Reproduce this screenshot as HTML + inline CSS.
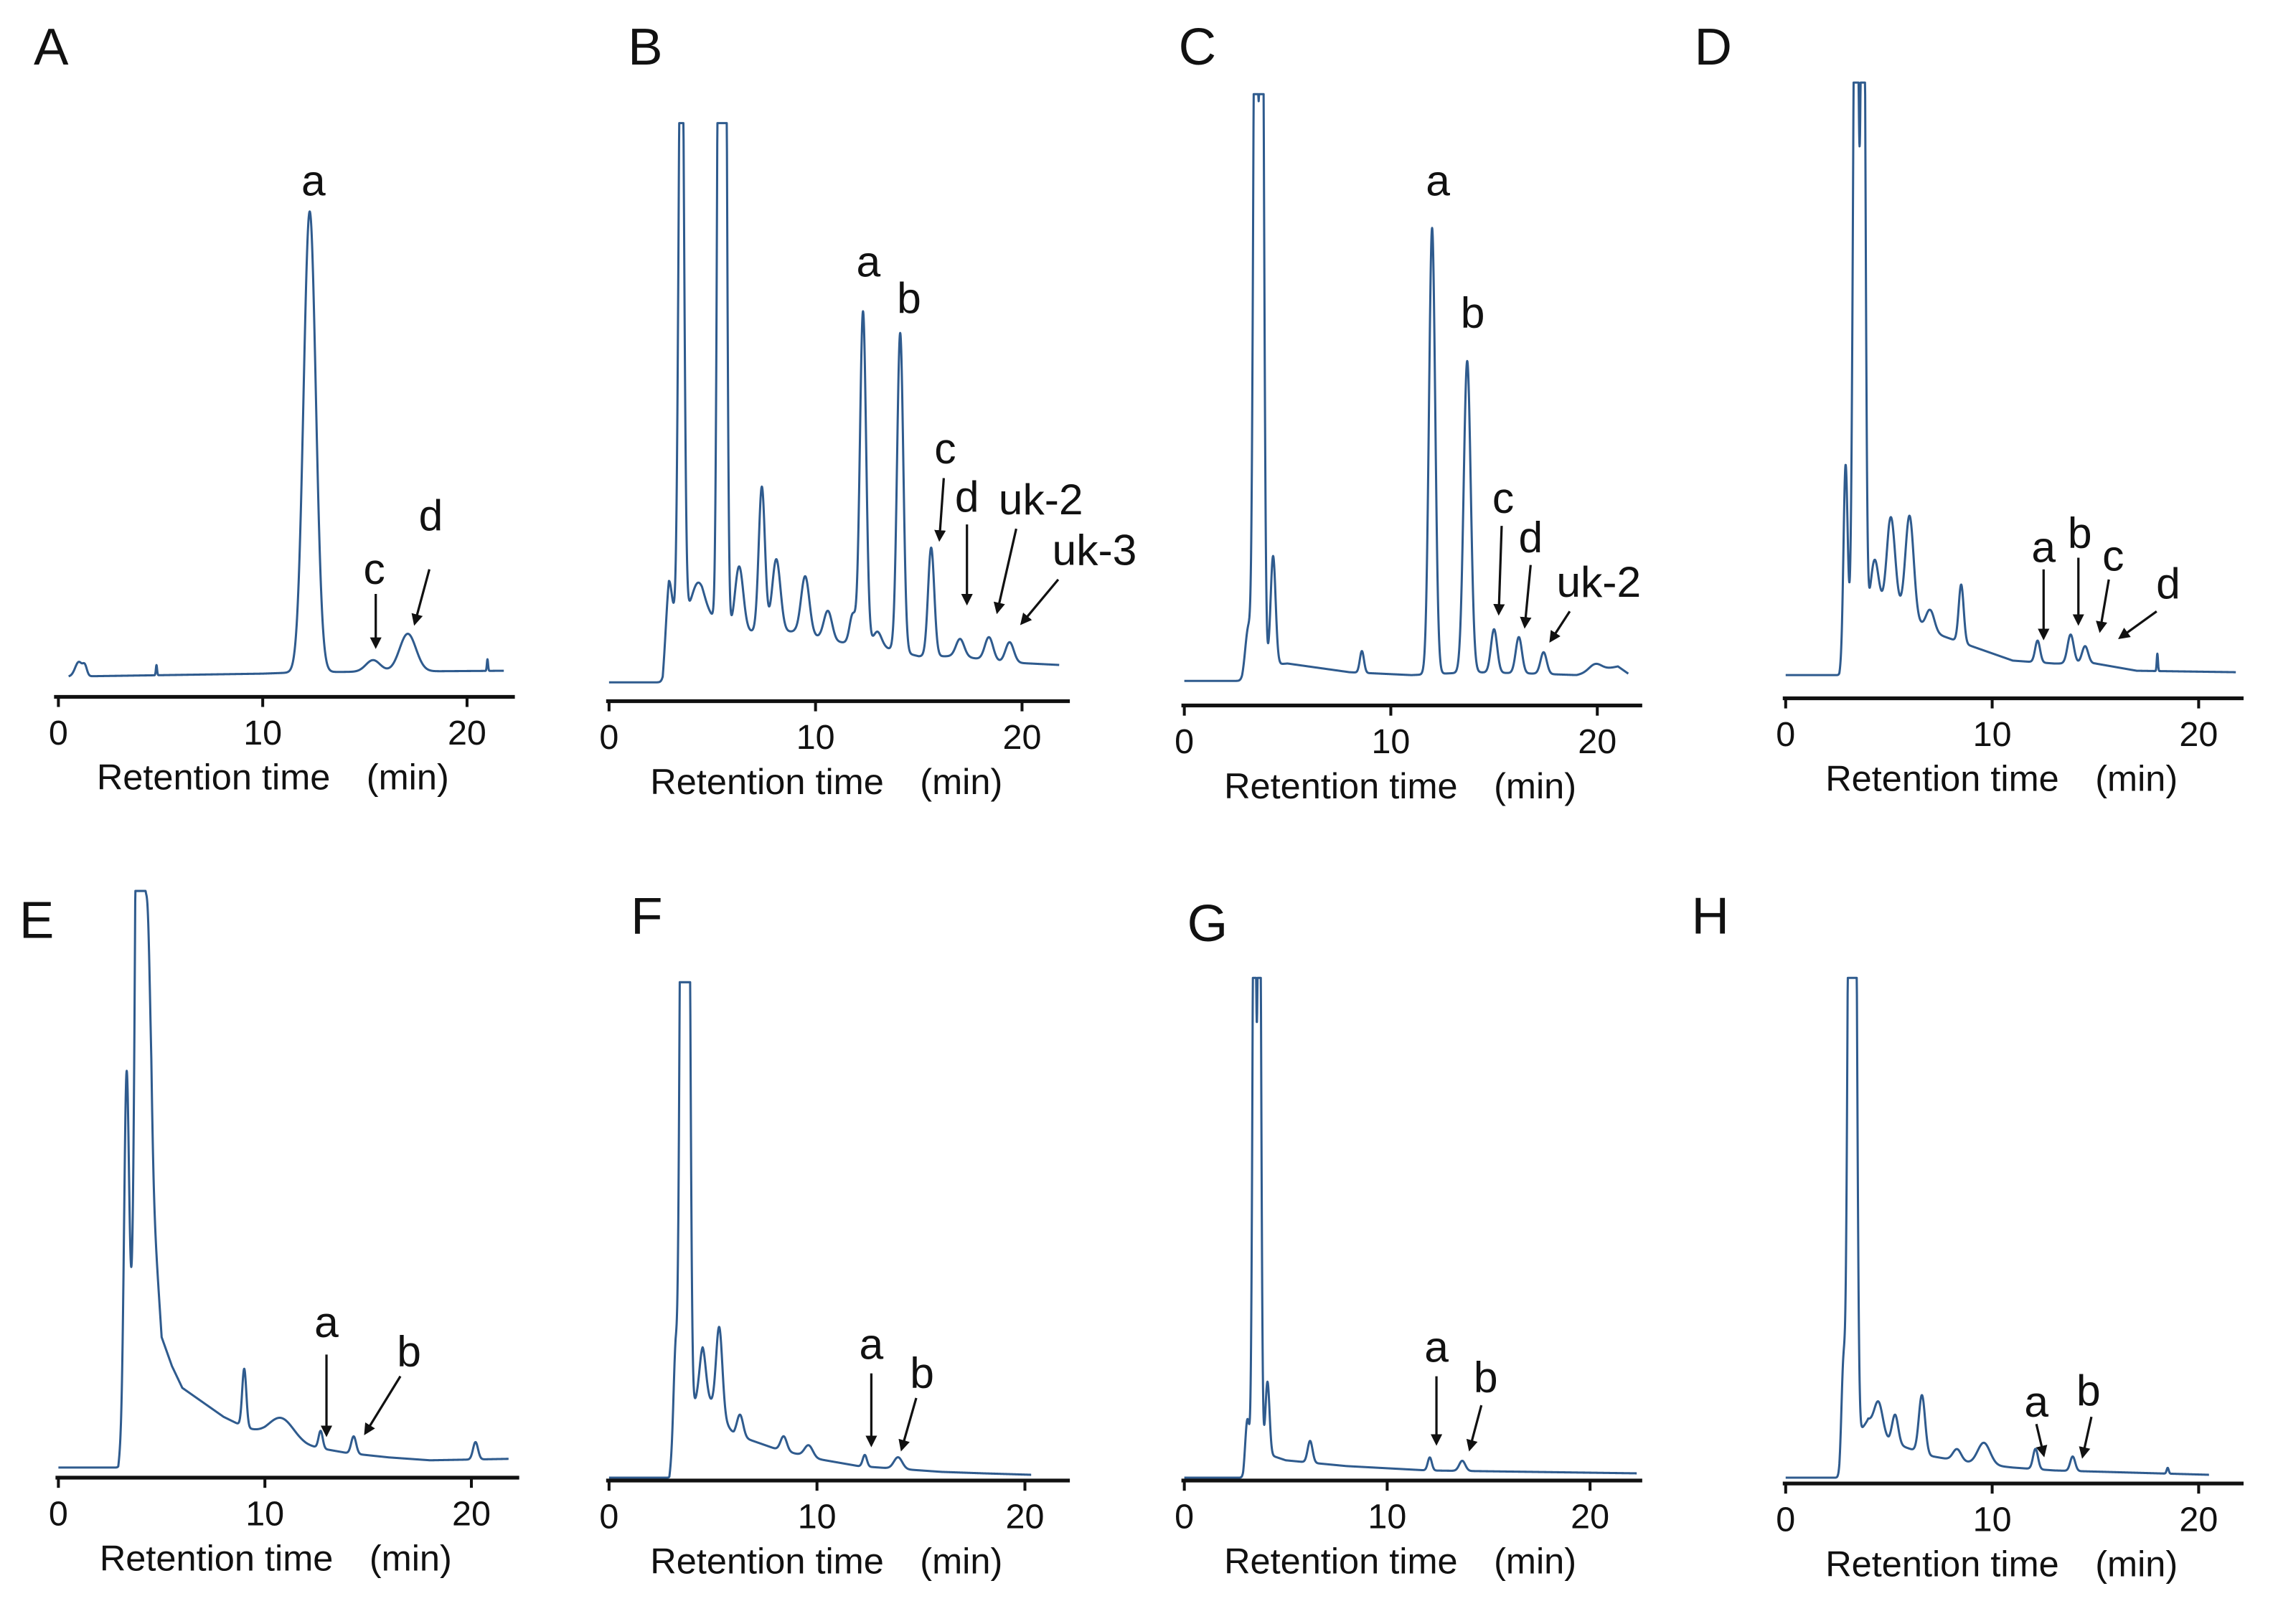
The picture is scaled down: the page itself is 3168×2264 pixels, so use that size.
<!DOCTYPE html>
<html><head><meta charset="utf-8"><style>
html,body{margin:0;padding:0;background:#fff}
svg{display:block}
text{font-family:"Liberation Sans",Arial,sans-serif;fill:#111}
</style></head><body>
<svg id="fig" width="3168" height="2264" viewBox="0 0 1568 1121" xmlns="http://www.w3.org/2000/svg">
<defs><marker id="ah" markerWidth="8" markerHeight="8" refX="6" refY="4" orient="auto" markerUnits="userSpaceOnUse"><path d="M0,0 L8,4 L0,8 z" fill="#111"/></marker></defs>
</svg>
<script>
// ---- data: peak times (min), peak heights (px units), peak widths (min), background points ----
const aPeakT=[1.0,1.3,4.8,12.3,15.4,17.1,21.0];
const aPeakH=[10,6,7,318,8,26,8];
const aPeakW=[0.18,0.1,0.03,0.3,0.35,0.4,0.03];
const aBgT=[0.5,10,12,21.8];
const aBgV=[0,2,3,4];

const bPeakT=[2.9,3.5,4.3,5.35,5.6,6.3,7.4,8.1,9.5,10.6,11.8,12.3,13.0,14.1,15.6,17.0,18.4,19.4];
const bPeakH=[30,500,20,600,600,45,100,50,40,20,20,230,10,220,75,12,16,14];
const bPeakW=[0.15,0.12,0.3,0.1,0.1,0.2,0.15,0.2,0.2,0.2,0.15,0.15,0.2,0.15,0.15,0.2,0.2,0.2];
const bBgT=[0,2.6,2.9,4.5,6,9,11,13,15,17,19,21.8];
const bBgV=[0,0,40,50,35,35,28,25,18,18,14,12];

const cPeakT=[3.1,3.45,3.75,4.3,8.6,12.0,13.7,15.0,16.2,17.4,19.9];
const cPeakH=[30,600,600,75,15,308,215,30,25,15,5];
const cPeakW=[0.15,0.1,0.1,0.12,0.1,0.15,0.17,0.15,0.15,0.15,0.3];
const cBgT=[0,2.8,3.2,5,8,11,14,17,19,21,21.5];
const cBgV=[0,0,10,12,6,4,6,5,4,10,5];

const dPeakT=[2.9,3.4,3.75,4.3,5.1,6.0,7.0,8.5,12.2,13.8,14.5,18.0];
const dPeakH=[130,600,600,40,60,70,15,40,15,20,12,12];
const dPeakW=[0.1,0.12,0.1,0.2,0.2,0.2,0.2,0.12,0.12,0.15,0.15,0.03];
const dBgT=[0,2.6,3,5,7,9,11,13,15,17,21.8];
const dBgV=[0,0,20,50,30,20,10,8,8,3,2];

const ePeakT=[3.3,3.9,4.3,9.0,10.8,12.7,14.3,20.2];
const ePeakH=[230,600,200,40,15,12,12,12];
const ePeakW=[0.12,0.15,0.15,0.1,0.6,0.1,0.12,0.12];
const eBgT=[0,2.9,3.2,4.5,5,5.5,6,7,8,9,10,12,14,16,18,21.8];
const eBgV=[0,0,30,200,90,70,55,45,35,28,22,15,10,7,5,6];

const fPeakT=[3.2,3.5,3.8,4.5,5.3,6.3,8.4,9.6,12.3,13.9];
const fPeakH=[60,500,500,30,60,15,10,8,8,8];
const fPeakW=[0.1,0.1,0.1,0.15,0.15,0.15,0.15,0.2,0.1,0.2];
const fBgT=[0,2.9,3.2,4.5,6,8,10,12,14,16,18,20.3];
const fBgV=[0,0,30,60,30,20,13,8,6,4,3,2];

const gPeakT=[3.1,3.45,3.7,4.1,6.2,12.1,13.7];
const gPeakH=[30,500,500,50,15,9,7];
const gPeakW=[0.1,0.08,0.08,0.1,0.12,0.1,0.15];
const gBgT=[0,2.9,3.3,5,8,12,22.3];
const gBgV=[0,0,20,12,8,5,3];

const hPeakT=[2.8,3.1,3.35,4.5,5.3,6.6,8.3,9.6,12.1,13.9,18.5];
const hPeakH=[70,500,500,20,20,40,8,15,14,10,4];
const hPeakW=[0.1,0.1,0.1,0.2,0.15,0.15,0.2,0.3,0.12,0.12,0.05];
const hBgT=[0,2.6,3,4,5,7,9,11,13,20.5];
const hBgV=[0,0,20,40,25,15,10,7,5,2];

const tickLabels=["0","10","20"];
const tickValues=[0,10,20];

const panels=[
 {id:"A",lx:35,ly:35,x0:40,x20:322,ax1:37,ax2:355,axY:481,base:467,top:60,t0:0.5,t1:21.8,pt:aPeakT,ph:aPeakH,pw:aPeakW,bt:aBgT,bv:aBgV,
  ann:[["a",216,127,null],["c",258,395,[259,410,259,446]],["d",297,358,[296,393,286,430]]]},
 {id:"B",lx:445,ly:35,x0:420,x20:705,ax1:418,ax2:738,axY:484,base:471,top:85,t0:0,t1:21.8,pt:bPeakT,ph:bPeakH,pw:bPeakW,bt:bBgT,bv:bBgV,
  ann:[["a",599,183,null],["b",627,208,null],["c",652,312,[651,330,648,372]],["d",667,345,[667,362,667,416]],["uk-2",718,347,[701,365,688,422]],["uk-3",755,382,[730,400,705,430]]]},
 {id:"C",lx:826,ly:35,x0:817,x20:1102,ax1:815,ax2:1133,axY:487,base:470,top:65,t0:0,t1:21.5,pt:cPeakT,ph:cPeakH,pw:cPeakW,bt:cBgT,bv:cBgV,
  ann:[["a",992,127,null],["b",1016,218,null],["c",1037,346,[1036,363,1034,423]],["d",1056,373,[1056,390,1052,432]],["uk-2",1103,404,[1083,422,1070,442]]]},
 {id:"D",lx:1182,ly:35,x0:1232,x20:1517,ax1:1230,ax2:1548,axY:482,base:466,top:57,t0:0,t1:21.8,pt:dPeakT,ph:dPeakH,pw:dPeakW,bt:dBgT,bv:dBgV,
  ann:[["a",1410,380,[1410,393,1410,440]],["b",1435,370,[1434,385,1434,430]],["c",1458,386,[1455,400,1449,435]],["d",1496,405,[1488,422,1463,440]]]},
 {id:"E",lx:25,ly:638,x0:40,x20:325,ax1:38,ax2:358,axY:1020,base:1013,top:615,t0:0,t1:21.8,pt:ePeakT,ph:ePeakH,pw:ePeakW,bt:eBgT,bv:eBgV,
  ann:[["a",225,915,[225,935,225,990]],["b",282,935,[276,950,252,989]]]},
 {id:"F",lx:446,ly:635,x0:420,x20:707,ax1:418,ax2:738,axY:1022,base:1020,top:678,t0:0,t1:20.3,pt:fPeakT,ph:fPeakH,pw:fPeakW,bt:fBgT,bv:fBgV,
  ann:[["a",601,930,[601,948,601,997]],["b",636,950,[632,965,622,1000]]]},
 {id:"G",lx:833,ly:640,x0:817,x20:1097,ax1:815,ax2:1133,axY:1022,base:1020,top:675,t0:0,t1:22.3,pt:gPeakT,ph:gPeakH,pw:gPeakW,bt:gBgT,bv:gBgV,
  ann:[["a",991,932,[991,950,991,996]],["b",1025,953,[1022,970,1014,1000]]]},
 {id:"H",lx:1180,ly:635,x0:1232,x20:1517,ax1:1230,ax2:1548,axY:1024,base:1020,top:675,t0:0,t1:20.5,pt:hPeakT,ph:hPeakH,pw:hPeakW,bt:hBgT,bv:hBgV,
  ann:[["a",1405,970,[1405,983,1410,1004]],["b",1441,962,[1443,978,1437,1005]]]}
];

const NS="http://www.w3.org/2000/svg";
const svg=document.getElementById("fig");
function mk(tag,attrs,parent){const e=document.createElementNS(NS,tag);for(const k in attrs)e.setAttribute(k,attrs[k]);(parent||svg).appendChild(e);return e;}
function interp(ts,vs,t){if(t<=ts[0])return vs[0];for(let i=1;i<ts.length;i++){if(t<=ts[i]){const f=(t-ts[i-1])/(ts[i]-ts[i-1]);return vs[i-1]+f*(vs[i]-vs[i-1]);}}return vs[vs.length-1];}

panels.forEach(p=>{
  const g=mk("g",{});
  
  
  const xs=t=>p.x0+(p.x20-p.x0)*t/20;
  const ys=v=>p.base-v;
  const lt=mk("text",{x:p.lx,y:p.ly,"font-size":36,"text-anchor":"middle","dominant-baseline":"middle"},g);
  lt.textContent=p.id;
  
  
  let d="";
  for(let t=p.t0;t<=p.t1+1e-9;t+=0.01){
    let v=interp(p.bt,p.bv,t);
    for(let i=0;i<p.pt.length;i++){const z=(t-p.pt[i])/p.pw[i];v+=p.ph[i]*Math.exp(-0.5*z*z);}
    let y=Math.max(ys(v),p.top);
    d+=(d?"L":"M")+xs(t).toFixed(2)+","+y.toFixed(2);
  }
  const tr=mk("path",{d:d,fill:"none",stroke:"#2f5b8e","stroke-width":1.5,"stroke-linejoin":"round"},g);
  
  
  const ax=mk("line",{x1:p.ax1,y1:p.axY,x2:p.ax2,y2:p.axY,stroke:"#111","stroke-width":2.6},g);
  
  
  tickValues.forEach((tv,i)=>{
    const tk=mk("line",{x1:xs(tv),y1:p.axY,x2:xs(tv),y2:p.axY+7,stroke:"#111","stroke-width":2},g);
    
    
    const tl=mk("text",{x:xs(tv),y:p.axY+33,"font-size":24,"text-anchor":"middle"},g);
    tl.textContent=tickLabels[i];
    
    
  });
  const at=mk("text",{x:(p.ax1+p.ax2)/2-8,y:p.axY+64,"font-size":25,"text-anchor":"middle"},g);
  at.textContent="Retention time\u3000(min)";
  
  
  p.ann.forEach(a=>{
    const tx=mk("text",{x:a[1],y:a[2],"font-size":30,"text-anchor":"middle","dominant-baseline":"middle"},g);
    tx.textContent=a[0];
    
    
    if(a[3]){
      const ar=mk("line",{x1:a[3][0],y1:a[3][1],x2:a[3][2],y2:a[3][3],stroke:"#111","stroke-width":1.6,"marker-end":"url(#ah)"},g);
      
      
    }
  });
});
</script>
</body></html>
